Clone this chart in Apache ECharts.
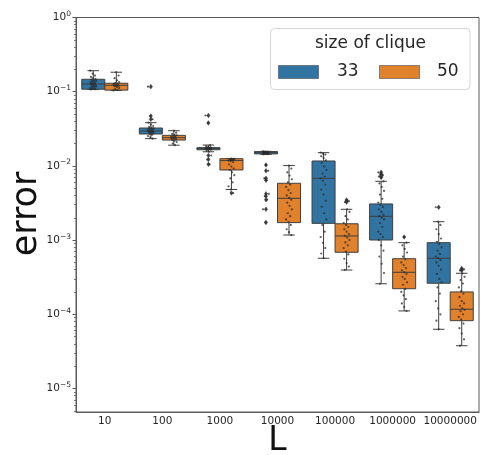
<!DOCTYPE html>
<html>
<head>
<meta charset="utf-8">
<script src="https://cdn.jsdelivr.net/npm/echarts@6/dist/echarts.min.js"></script>
<style>
  html, body { margin: 0; padding: 0; background: #fff; }
  #chart { width: 481px; height: 455px; }
</style>
</head>
<body>
<div id="chart"></div>
<script>
// L values on the x axis
const categories = ['10', '100', '1000', '10000', '100000', '1000000', '10000000'];
const cliqueSizes = ['33', '50'];
const yTickValues = [1e-5, 1e-4, 1e-3, 1e-2, 1e-1, 1];

// box statistics, size of clique 33
const whiskerLow33 = [0.107, 0.0233, 0.0155, 0.0143, 0.000569, 0.000258, 6.28e-5];
const quartile1_33 = [0.108, 0.0269, 0.0165, 0.0145, 0.00168, 0.001003, 0.000262];
const median33 = [0.127, 0.0295, 0.0172, 0.0151, 0.00681, 0.00209, 0.000569];
const quartile3_33 = [0.147, 0.0324, 0.0176, 0.0156, 0.01164, 0.00307, 0.000923];
const whiskerHigh33 = [0.192, 0.0382, 0.0191, 0.0157, 0.01507, 0.0062, 0.00177];

// box statistics, size of clique 50
const whiskerLow50 = [0.104, 0.019, 0.00481, 0.00117, 0.000395, 0.000111, 3.77e-5];
const quartile1_50 = [0.105, 0.0223, 0.00881, 0.00172, 0.000685, 0.000221, 8.2e-5];
const median50 = [0.122, 0.024, 0.0118, 0.00366, 0.001136, 0.000368, 0.000117];
const quartile3_50 = [0.130, 0.0258, 0.0125, 0.00583, 0.00166, 0.000561, 0.0002];
const whiskerHigh50 = [0.183, 0.0298, 0.0125, 0.0101, 0.0026, 0.000923, 0.000357];

// outliers beyond the whiskers
const fliers33 = [
  [],
  [0.117, 0.047, 0.0425],
  [0.0478, 0.0379, 0.0138, 0.0122, 0.0105],
  [0.0103, 0.0086, 0.0068, 0.0064, 0.0042, 0.0039, 0.0035, 0.0026, 0.00173],
  [],
  [0.0082, 0.0078, 0.0075, 0.0072, 0.007],
  [0.00277]
];
const fliers50 = [
  [],
  [],
  [0.00431],
  [],
  [0.00347, 0.00335, 0.00325],
  [0.0011],
  [0.000414, 0.000402, 0.00039]
];

// individual runs, size of clique 33
const runs33 = [
  [0.192, 0.175, 0.165, 0.158, 0.152, 0.148, 0.145, 0.142, 0.14, 0.138, 0.135, 0.133, 0.131, 0.129, 0.127, 0.126, 0.124, 0.122, 0.12, 0.118, 0.116, 0.114, 0.112, 0.11, 0.108, 0.107],
  [0.117, 0.047, 0.0425, 0.0382, 0.036, 0.0345, 0.0335, 0.0325, 0.032, 0.0315, 0.031, 0.0305, 0.03, 0.0297, 0.0294, 0.029, 0.0287, 0.0283, 0.028, 0.0275, 0.027, 0.0262, 0.0252, 0.0243, 0.0233],
  [0.0478, 0.0379, 0.0191, 0.0185, 0.018, 0.0178, 0.0176, 0.0175, 0.0174, 0.0173, 0.0172, 0.0171, 0.017, 0.0169, 0.0168, 0.0167, 0.0165, 0.016, 0.0155, 0.0138, 0.0122, 0.0105],
  [0.0157, 0.0156, 0.0155, 0.0154, 0.0153, 0.0152, 0.0151, 0.015, 0.0149, 0.0148, 0.0147, 0.0146, 0.0145, 0.0144, 0.0143, 0.0103, 0.0086, 0.0068, 0.0064, 0.0042, 0.0039, 0.0035, 0.0026, 0.00173],
  [0.0151, 0.0146, 0.0142, 0.0135, 0.0128, 0.0119, 0.011, 0.0098, 0.0088, 0.0079, 0.0072, 0.0068, 0.0063, 0.0056, 0.0048, 0.0041, 0.0034, 0.0028, 0.0023, 0.0019, 0.0016, 0.0013, 0.0011, 0.00092, 0.00078, 0.00066, 0.000569],
  [0.0082, 0.0078, 0.0075, 0.0072, 0.007, 0.0062, 0.0058, 0.0052, 0.0046, 0.0041, 0.0036, 0.0032, 0.003, 0.0028, 0.0026, 0.0024, 0.0022, 0.0021, 0.002, 0.0019, 0.0017, 0.0015, 0.0013, 0.0012, 0.0011, 0.001, 0.00085, 0.00072, 0.0006, 0.00048, 0.00036, 0.000258],
  [0.00277, 0.00177, 0.0016, 0.0014, 0.0012, 0.00105, 0.00095, 0.00088, 0.0008, 0.00072, 0.00065, 0.0006, 0.00057, 0.00054, 0.0005, 0.00045, 0.0004, 0.00035, 0.0003, 0.00027, 0.00023, 0.00019, 0.00015, 0.00012, 0.0001, 8.2e-5, 6.28e-5]
];

// individual runs, size of clique 50
const runs50 = [
  [0.183, 0.165, 0.152, 0.142, 0.135, 0.131, 0.129, 0.127, 0.125, 0.123, 0.122, 0.121, 0.12, 0.118, 0.115, 0.112, 0.108, 0.105, 0.104],
  [0.0298, 0.028, 0.027, 0.0262, 0.0258, 0.0252, 0.0248, 0.0244, 0.0241, 0.0238, 0.0235, 0.0232, 0.0228, 0.0224, 0.0218, 0.021, 0.02, 0.019],
  [0.0125, 0.0124, 0.0123, 0.0122, 0.0121, 0.012, 0.0119, 0.0118, 0.0116, 0.0112, 0.0105, 0.0098, 0.0092, 0.0088, 0.0082, 0.0075, 0.0068, 0.006, 0.0053, 0.0048, 0.00431],
  [0.0101, 0.0092, 0.0082, 0.0074, 0.0066, 0.006, 0.0056, 0.0052, 0.0047, 0.0043, 0.004, 0.0037, 0.0035, 0.0032, 0.0029, 0.0026, 0.0023, 0.0021, 0.0019, 0.00175, 0.0016, 0.0014, 0.00128, 0.00117],
  [0.00347, 0.00335, 0.00325, 0.0026, 0.0024, 0.0021, 0.0019, 0.0017, 0.0016, 0.0015, 0.0014, 0.0013, 0.0012, 0.00114, 0.00108, 0.001, 0.00093, 0.00085, 0.00078, 0.0007, 0.00064, 0.00056, 0.00049, 0.00044, 0.000395],
  [0.0011, 0.000923, 0.00085, 0.00076, 0.00068, 0.0006, 0.00055, 0.0005, 0.00046, 0.00042, 0.00039, 0.00037, 0.00035, 0.00032, 0.0003, 0.00027, 0.00025, 0.00022, 0.0002, 0.00018, 0.00016, 0.00014, 0.000125, 0.000111],
  [0.000414, 0.000402, 0.00039, 0.000357, 0.00032, 0.00029, 0.00026, 0.00023, 0.000205, 0.00019, 0.00017, 0.00015, 0.00014, 0.00013, 0.00012, 0.000115, 0.00011, 0.0001, 9.2e-5, 8.5e-5, 7.5e-5, 6.5e-5, 5.5e-5, 4.6e-5, 3.77e-5]
];

const COLORS = ['#3274a1', '#e1812c'];
const EDGE = '#3f3f3f';
const FONT = '"DejaVu Sans", sans-serif';
const TEXT = '#262626';

// log10 minor tick positions (2..9 per decade)
const minorTicks = [];
for (let e = -6; e < 0; e++) {
  for (let m = 2; m <= 9; m++) {
    const v = m * Math.pow(10, e);
    if (v > 4.82e-6 && v < 1) minorTicks.push(v);
  }
}

function boxRows(low, q1, med, q3, high) {
  return categories.map((c, i) => [i, low[i], q1[i], med[i], q3[i], high[i]]);
}
function pointRows(groups) {
  const rows = [];
  groups.forEach((vals, i) => vals.forEach((v, k) => rows.push([i, v, k])));
  return rows;
}

// hue slot: boxes take 0.4 of a band each, side by side
function slotCenter(api, cat, hue) {
  const bw = api.size([1, 0])[0];
  const x = api.coord([cat, 1])[0];
  return { cx: x + (hue === 0 ? -0.2 : 0.2) * bw, bw: bw };
}

function makeBoxRender(hue) {
  return function (params, api) {
    const cat = api.value(0);
    const s = slotCenter(api, cat, hue);
    const half = 0.2 * s.bw;
    const cap = 0.1 * s.bw;
    const y = v => api.coord([cat, v])[1];
    const yLow = y(api.value(1)), yQ1 = y(api.value(2)), yMed = y(api.value(3)),
          yQ3 = y(api.value(4)), yHigh = y(api.value(5));
    const ls = { stroke: EDGE, lineWidth: 1 };
    return {
      type: 'group',
      children: [
        { type: 'line', shape: { x1: s.cx, y1: yQ1, x2: s.cx, y2: yLow }, style: ls },
        { type: 'line', shape: { x1: s.cx, y1: yQ3, x2: s.cx, y2: yHigh }, style: ls },
        { type: 'line', shape: { x1: s.cx - cap, y1: yLow, x2: s.cx + cap, y2: yLow }, style: ls },
        { type: 'line', shape: { x1: s.cx - cap, y1: yHigh, x2: s.cx + cap, y2: yHigh }, style: ls },
        { type: 'rect', shape: { x: s.cx - half, y: yQ3, width: 2 * half, height: Math.max(yQ1 - yQ3, 1) },
          style: { fill: COLORS[hue], stroke: EDGE, lineWidth: 1 } },
        { type: 'line', shape: { x1: s.cx - half, y1: yMed, x2: s.cx + half, y2: yMed }, style: ls }
      ]
    };
  };
}

function makeFlierRender(hue) {
  return function (params, api) {
    const cat = api.value(0);
    const s = slotCenter(api, cat, hue);
    const y = api.coord([cat, api.value(1)])[1];
    return {
      type: 'polygon',
      shape: { points: [[s.cx, y - 2.3], [s.cx + 1.6, y], [s.cx, y + 2.3], [s.cx - 1.6, y]] },
      style: { fill: '#3d3d3d', stroke: '#3d3d3d', lineWidth: 0.5 }
    };
  };
}

function makeRunRender(hue) {
  return function (params, api) {
    const cat = api.value(0);
    const s = slotCenter(api, cat, hue);
    const k = api.value(2);
    const jitter = (((k * 37 + hue * 5) % 11) / 10 - 0.5) * 0.1 * s.bw;
    const y = api.coord([cat, api.value(1)])[1];
    return {
      type: 'circle',
      shape: { cx: s.cx + jitter, cy: y, r: 1.1 },
      style: { fill: '#2a2a2a', opacity: 0.75 }
    };
  };
}

const chart = echarts.init(document.getElementById('chart'), null, { renderer: 'canvas' });

const yBase = {
  type: 'log',
  logBase: 10,
  min: 4.82e-6,
  max: 1,
  position: 'left',
  splitLine: { show: false }
};

chart.setOption({
  animation: false,
  backgroundColor: '#fff',
  grid: {
    left: 76, right: 2, top: 17.5, bottom: 43,
    show: true, borderColor: '#5a5a5a', borderWidth: 1, backgroundColor: 'transparent'
  },
  xAxis: {
    type: 'category',
    data: categories,
    boundaryGap: true,
    axisLine: { lineStyle: { color: '#5a5a5a', width: 1 } },
    axisTick: { alignWithLabel: true, length: 3.5, lineStyle: { color: '#5a5a5a' } },
    axisLabel: { color: TEXT, fontSize: 10.5, fontFamily: FONT, margin: 4, interval: 0 },
    splitLine: { show: false }
  },
  yAxis: [
    Object.assign({}, yBase, {
      axisLine: { show: true, lineStyle: { color: '#5a5a5a', width: 1 } },
      axisTick: { show: true, length: 3.5, customValues: yTickValues, lineStyle: { color: '#5a5a5a' } },
      axisLabel: {
        customValues: yTickValues,
        margin: 5,
        formatter: function (v) {
          const n = Math.round(Math.log10(v));
          return '{b|10}{s|' + (n < 0 ? '\u2212' + (-n) : String(n)) + '}';
        },
        rich: {
          b: { fontSize: 10.5, color: TEXT, fontFamily: FONT, lineHeight: 15 },
          s: { fontSize: 7.5, color: TEXT, fontFamily: FONT, lineHeight: 9, verticalAlign: 'top' }
        }
      }
    }),
    Object.assign({}, yBase, {
      axisLine: { show: false },
      axisTick: { show: true, length: 2, customValues: minorTicks, lineStyle: { color: '#5a5a5a', width: 0.8 } },
      axisLabel: { show: false }
    })
  ],
  series: [
    { type: 'custom', name: cliqueSizes[0], renderItem: makeBoxRender(0), z: 2,
      encode: { x: 0, y: [1, 2, 3, 4, 5] },
      data: boxRows(whiskerLow33, quartile1_33, median33, quartile3_33, whiskerHigh33) },
    { type: 'custom', name: cliqueSizes[1], renderItem: makeBoxRender(1), z: 2,
      encode: { x: 0, y: [1, 2, 3, 4, 5] },
      data: boxRows(whiskerLow50, quartile1_50, median50, quartile3_50, whiskerHigh50) },
    { type: 'custom', renderItem: makeFlierRender(0), z: 3, encode: { x: 0, y: 1 }, data: pointRows(fliers33) },
    { type: 'custom', renderItem: makeFlierRender(1), z: 3, encode: { x: 0, y: 1 }, data: pointRows(fliers50) },
    { type: 'custom', renderItem: makeRunRender(0), z: 4, encode: { x: 0, y: 1 }, data: pointRows(runs33) },
    { type: 'custom', renderItem: makeRunRender(1), z: 4, encode: { x: 0, y: 1 }, data: pointRows(runs50) }
  ],
  graphic: [
    { type: 'text', x: 27, y: 214, rotation: Math.PI / 2,
      style: { text: 'error', font: '35px ' + FONT, fill: '#111', align: 'center', verticalAlign: 'middle' } },
    { type: 'text', x: 277.5, y: 441, style: { text: 'L', font: '33px ' + FONT, fill: '#111', align: 'center', verticalAlign: 'middle' } },
    // legend box
    { type: 'rect', shape: { x: 270.5, y: 28.5, width: 199.5, height: 61, r: 4 },
      style: { fill: 'rgba(255,255,255,0.85)', stroke: '#d6d6d6', lineWidth: 1 }, z: 10 },
    { type: 'text', x: 370.5, y: 44, z: 11,
      style: { text: 'size of clique', font: '17px ' + FONT, fill: TEXT, align: 'center', verticalAlign: 'middle' } },
    { type: 'rect', shape: { x: 278.5, y: 65.5, width: 40, height: 13 }, z: 11,
      style: { fill: COLORS[0], stroke: '#4a4a4a', lineWidth: 0.6 } },
    { type: 'text', x: 337, y: 72, z: 11,
      style: { text: cliqueSizes[0], font: '17px ' + FONT, fill: TEXT, align: 'left', verticalAlign: 'middle' } },
    { type: 'rect', shape: { x: 379.5, y: 65.5, width: 40, height: 13 }, z: 11,
      style: { fill: COLORS[1], stroke: '#4a4a4a', lineWidth: 0.6 } },
    { type: 'text', x: 437, y: 72, z: 11,
      style: { text: cliqueSizes[1], font: '17px ' + FONT, fill: TEXT, align: 'left', verticalAlign: 'middle' } }
  ]
});
</script>
</body>
</html>
